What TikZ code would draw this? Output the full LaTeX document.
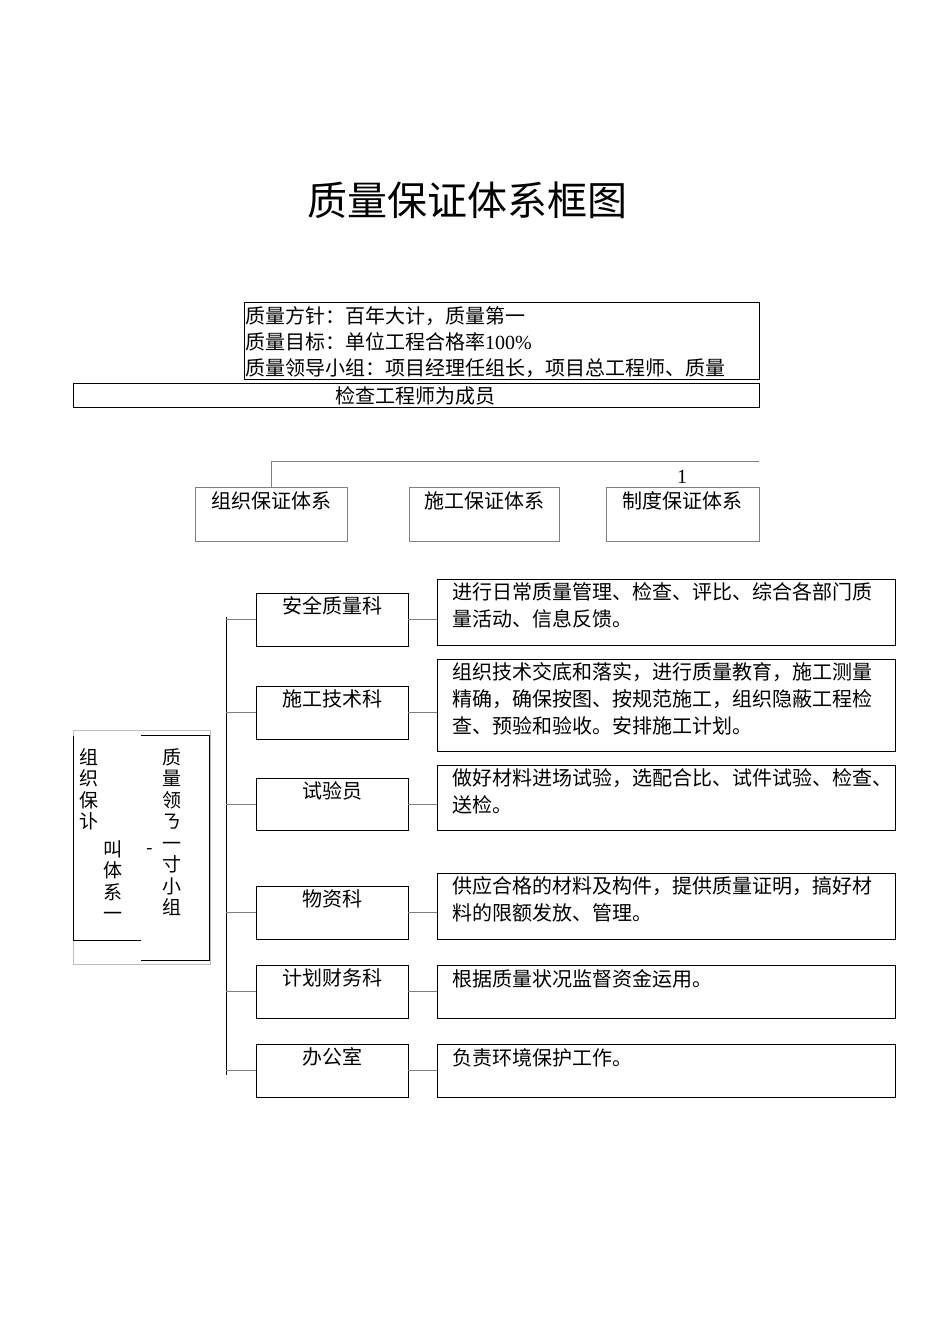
\documentclass[tikz,border=0pt]{standalone}
\usepackage{fontspec}
\setmainfont{Noto Sans CJK SC}
\newfontfamily\numfont{Liberation Serif}
\begin{document}
\begin{tikzpicture}[x=1pt,y=-1pt,
  bx/.style={draw,line width=0.9pt},
  t/.style={font=\fontsize{20}{27}\selectfont,inner sep=0pt},
  vt/.style={font=\fontsize{19}{21.5}\selectfont,inner sep=0pt,align=center,anchor=north}]
\useasboundingbox (0,0) rectangle (950,1344);
\node[font=\fontsize{40}{44}\selectfont] (title) at (467,200) {质量保证体系框图};
\draw[bx] (244,302) rectangle (759,379);
\node[t,anchor=west] (l1) at (245,316) {质量方针：百年大计，质量第一};
\node[t,anchor=west] (l2) at (245,342) {质量目标：单位工程合格率{\numfont 100\%}};
\node[t,anchor=west] (l3) at (245,368) {质量领导小组：项目经理任组长，项目总工程师、质量};
\draw[bx] (73,383) rectangle (759,407);
\node[t] (l4) at (415,396) {检查工程师为成员};
\draw[gray,line width=0.9pt] (271,487) -- (271,461) -- (759,461);
\node[font=\numfont\fontsize{20}{20}\selectfont] (one) at (682,477) {1};
\foreach \n/\a/\b/\s in {s1/195/347/组织保证体系,s2/409/559/施工保证体系,s3/606/759/制度保证体系}{
  \draw[bx,gray] (\a,487) rectangle (\b,541);
  \node[t] (\n) at ({(\a+\b)/2},501) {\s};
}
% left structure
\draw[lightgray] (73,730) rectangle (210,964);
\draw[line width=0.9pt] (73,736) -- (73,940) -- (141,940);
\draw[line width=0.9pt] (141,735) -- (209,735) -- (209,960) -- (141,960);
\node[vt] (v1) at (89,748) {组\\织\\保\\讣};
\node[vt] (v2) at (113,840) {叫\\体\\系\\一};
\node[vt] (v3) at (172,748) {质\\量\\领\\ㄋ};
\node[vt] (v4) at (172,842) {一\\寸\\小\\组};
\node[inner sep=0pt,font=\fontsize{19}{19}\selectfont] (dash) at (150,851) {-};
% trunk
\draw[line width=0.9pt] (226,617) -- (226,1075);
\foreach \n/\y/\h/\s in {
  d1/593/646/安全质量科,d2/686/739/施工技术科,d3/778/830/试验员,
  d4/886/939/物资科,d5/965/1018/计划财务科,d6/1044/1097/办公室}{
  \draw[bx] (256,\y) rectangle (408,\h);
  \node[t] (\n) at (332,\y+13) {\s};
  \coordinate (\n l) at (256,{(\y+\h)/2});
  \coordinate (\n r) at (408,{(\y+\h)/2});
  \coordinate (\n t) at (226,{(\y+\h)/2});
  \draw[gray,line width=0.9pt] (\n t) -- (\n l);
}
\foreach \n/\y/\h in {e1/579/645,e2/659/751,e3/765/830,e4/873/939,e5/965/1018,e6/1044/1097}{
  \draw[bx] (437,\y) rectangle (895,\h);
  \coordinate (\n l) at (437,{(\y+\h)/2});
}
\foreach \i in {1,...,6}{\draw[gray,line width=0.9pt] (d\i r) -- (d\i r -| e\i l);}
\node[t,anchor=north west,align=left] (x1) at (452,582) {进行日常质量管理、检查、评比、综合各部门质\\量活动、信息反馈。};
\node[t,anchor=north west,align=left] (x2) at (452,662) {组织技术交底和落实，进行质量教育，施工测量\\精确，确保按图、按规范施工，组织隐蔽工程检\\查、预验和验收。安排施工计划。};
\node[t,anchor=north west,align=left] (x3) at (452,768) {做好材料进场试验，选配合比、试件试验、检查、\\送检。};
\node[t,anchor=north west,align=left] (x4) at (452,876) {供应合格的材料及构件，提供质量证明，搞好材\\料的限额发放、管理。};
\node[t,anchor=north west,align=left] (x5) at (452,969) {根据质量状况监督资金运用。};
\node[t,anchor=north west,align=left] (x6) at (452,1048) {负责环境保护工作。};
\end{tikzpicture}
\end{document}
